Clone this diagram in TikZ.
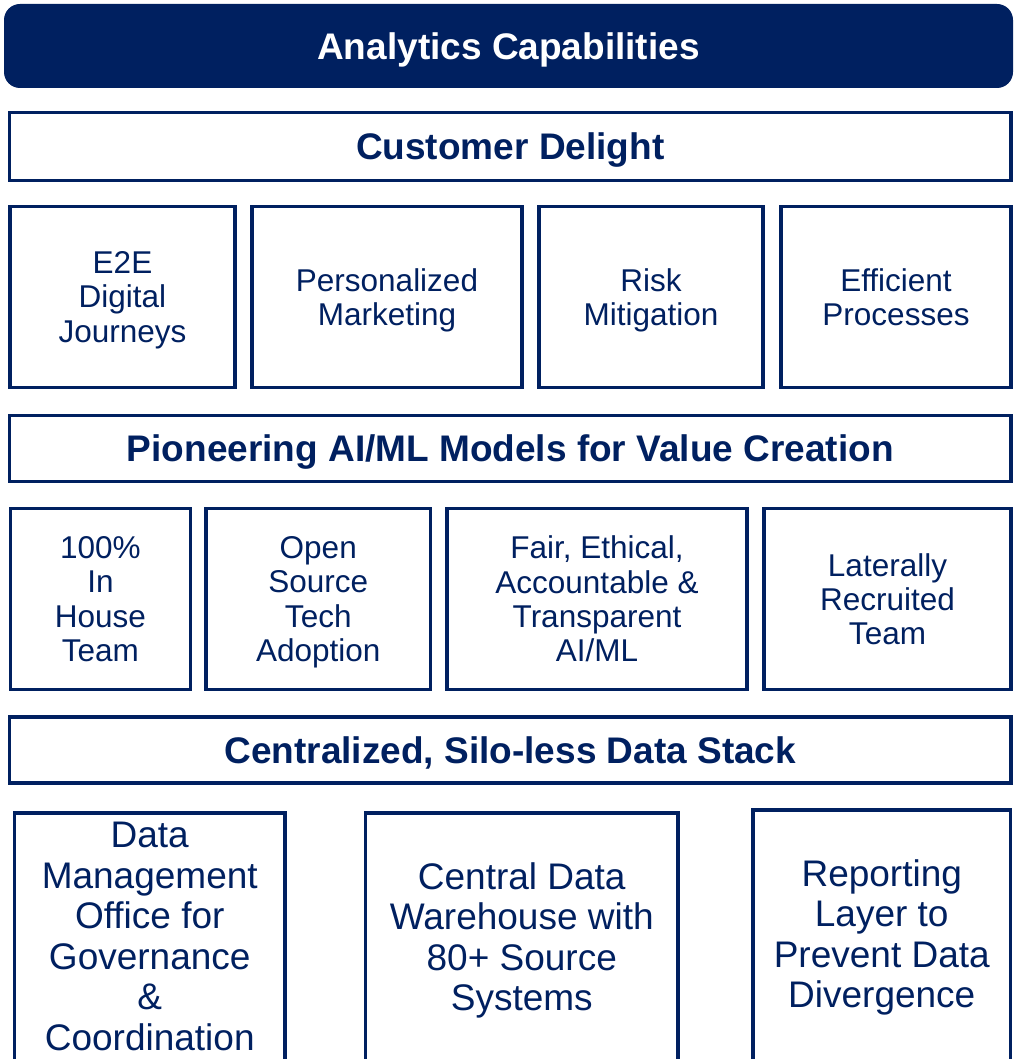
\documentclass[tikz,border=0pt]{standalone}
\usepackage{fontspec}
\setmainfont{Liberation Sans}
\definecolor{navy}{RGB}{0,32,96}
\begin{document}
\begin{tikzpicture}[x=1pt,y=-1pt,
  box/.style={draw=navy,line width=3.6pt,fill=white,inner sep=0pt,align=center,text=navy,text depth=0pt},
  small/.style={font=\fontsize{31.5}{34.3}\selectfont},
  big/.style={font=\fontsize{37}{40.5}\selectfont},
  head/.style={font=\bfseries\fontsize{37}{40.5}\selectfont}]
\useasboundingbox (0,0) rectangle (1013,1059);
\fill[white] (0,0) rectangle (1013,1059);
\node[fill=navy,rounded corners=16pt,minimum width=1009pt,minimum height=84pt,inner sep=0pt,text=white,text depth=0pt,head] (title) at (508.5,46) {Analytics Capabilities};
\node[box,head,minimum width=1001.5pt,minimum height=68pt] (cd) at (510.25,146.5) {Customer Delight};
\node[box,small,minimum width=225pt,minimum height=181pt] (e2e) at (122.5,297) {E2E\\Digital\\Journeys};
\node[box,small,minimum width=270pt,minimum height=181pt] (pm) at (387,297) {Personalized\\Marketing};
\node[box,small,minimum width=224pt,minimum height=181pt] (rm) at (651,297) {Risk\\Mitigation};
\node[box,small,minimum width=230pt,minimum height=181pt] (ep) at (896,297) {Efficient\\Processes};
\node[box,head,minimum width=1001.5pt,minimum height=66pt] (ai) at (510.25,448.5) {Pioneering AI/ML Models for Value Creation};
\node[box,small,minimum width=180.2pt,minimum height=181pt] (ih) at (100.4,599) {100\%\\In\\House\\Team};
\node[box,small,minimum width=224.5pt,minimum height=181pt] (os) at (318.25,599) {Open\\Source\\Tech\\Adoption};
\node[box,small,minimum width=300pt,minimum height=181pt] (fe) at (597,599) {Fair, Ethical,\\Accountable \&\\Transparent\\AI/ML};
\node[box,small,minimum width=247pt,minimum height=181pt] (lr) at (887.5,599) {Laterally\\Recruited\\Team};
\node[box,head,minimum width=1001.5pt,minimum height=66pt] (ds) at (510.25,750) {Centralized, Silo-less Data Stack};
\node[box,big,text depth=20pt,minimum width=270.5pt,minimum height=267pt] (dmo) at (149.75,946.5) {Data\\Management\\Office for\\Governance\\\&\\Coordination};
\node[box,big,text depth=20pt,minimum width=312.5pt,minimum height=267pt] (cdw) at (521.75,946.5) {Central Data\\Warehouse with\\80+ Source\\Systems};
\node[box,big,text depth=20pt,minimum width=257.5pt,minimum height=267pt] (rl) at (881.75,943.5) {Reporting\\Layer to\\Prevent Data\\Divergence};
\end{tikzpicture}
\end{document}
